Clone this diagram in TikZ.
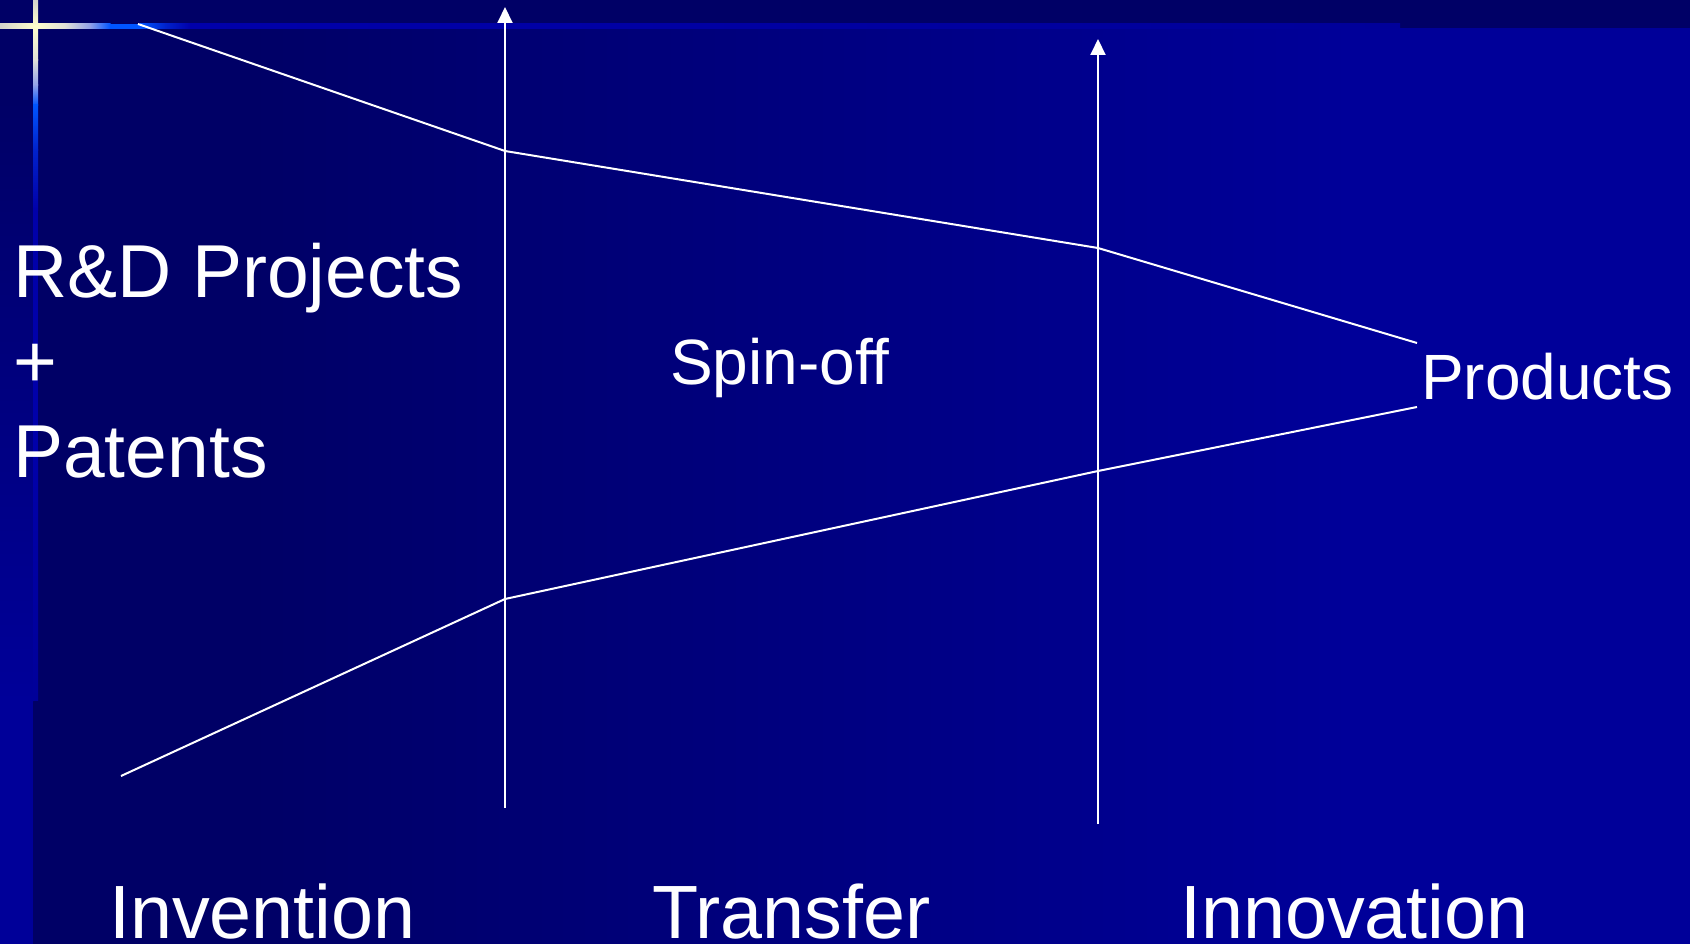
\documentclass[tikz,border=0pt]{standalone}
\usepackage{fontspec}
\setmainfont{Liberation Sans}
\usetikzlibrary{arrows.meta}
\definecolor{navy}{HTML}{000066}
\definecolor{royal}{HTML}{000099}
\definecolor{glowline}{HTML}{0000AA}
\definecolor{glowblue}{HTML}{0055FF}
\definecolor{glowmid}{HTML}{0022CC}
\definecolor{glowpale}{HTML}{D4D4CC}
\definecolor{glowstar}{HTML}{FFFFCC}
\definecolor{glowgrey}{HTML}{E0E0D8}
\definecolor{glowlav}{HTML}{90A0E8}
\begin{document}
\begin{tikzpicture}[x=1pt,y=-1pt,
  flow/.style={draw=white,line width=2pt,line join=miter},
  rise/.style={draw=white,line width=2pt,-{Triangle[width=15pt,length=16pt]}},
  bigtext/.style={text=white,inner sep=0pt,anchor=base west,font=\fontsize{75}{90}\selectfont},
  midtext/.style={text=white,inner sep=0pt,anchor=base west,font=\fontsize{64}{77}\selectfont},
  phasetext/.style={text=white,inner sep=0pt,anchor=base west,font=\fontsize{75.5}{91}\selectfont}]
\useasboundingbox (0,0) rectangle (1690,944);
% background
\fill[navy] (0,0) rectangle (1690,944);
\shade[left color=navy,right color=royal] (250,28) rectangle (1351,944);
\fill[royal] (1350,28) rectangle (1690,944);
% left strip
\shade[top color=navy,bottom color=royal] (0,100) rectangle (33,701);
\fill[royal] (0,700) rectangle (33,944);
% horizontal glow line
\shade[left color=glowpale,right color=glowstar] (0,24) rectangle (35.5,29);
\shade[left color=glowstar,right color=glowgrey] (35,24) rectangle (65.5,29);
\shade[left color=glowgrey,right color=glowlav] (65,24) rectangle (90.5,29);
\shade[left color=glowlav,right color=glowblue] (90,24) rectangle (110.5,29);
\fill[glowblue] (110,24) rectangle (140.5,29);
\shade[left color=glowblue,right color=glowmid] (140,24) rectangle (165.5,29);
\shade[left color=glowmid,right color=glowline] (165,24) rectangle (190.5,29);
\shade[left color=glowline,right color=royal] (190,24) rectangle (1400,29);
% vertical glow line
\shade[top color=glowpale,bottom color=glowstar] (33,0) rectangle (38,26.5);
\shade[top color=glowstar,bottom color=glowgrey] (33,26) rectangle (38,60.5);
\shade[top color=glowgrey,bottom color=glowlav] (33,60) rectangle (38,85.5);
\shade[top color=glowlav,bottom color=glowblue] (33,85) rectangle (38,105.5);
\shade[top color=glowblue,bottom color=glowmid] (33,105) rectangle (38,150.5);
\shade[top color=glowmid,bottom color=glowline] (33,150) rectangle (38,210.5);
\fill[glowline] (33,210) rectangle (38,450.5);
\shade[top color=glowline,bottom color=royal] (33,450) rectangle (38,700);
% key points
\coordinate (t0) at (138,24);
\coordinate (t1) at (505,151);
\coordinate (t2) at (1098,248);
\coordinate (t3) at (1417,343);
\coordinate (b0) at (121,776);
\coordinate (b1) at (505,599);
\coordinate (b2) at (1098,471);
\coordinate (b3) at (1417,407);
\coordinate (a1s) at (505,808);
\coordinate (a1e) at (505,7);
\coordinate (a2s) at (1098,824);
\coordinate (a2e) at (1098,39);
% arrows and funnel
\draw[rise] (a1s) -- (a1e);
\draw[rise] (a2s) -- (a2e);
\draw[flow] (t0) -- (t1) -- (t2) -- (t3);
\draw[flow] (b0) -- (b1) -- (b2) -- (b3);
% texts
\node[bigtext] (rd) at (13,298) {R\&D Projects};
\node[bigtext] (plus) at (13,387.5) {+};
\node[bigtext] (pat) at (13,477) {Patents};
\node[midtext] (spin) at (670,384) {Spin-off};
\node[midtext] (prod) at (1421,399) {Products};
\node[phasetext] (inv) at (109,938) {Invention};
\node[phasetext] (tra) at (652,938) {Transfer};
\node[phasetext] (inn) at (1180,938) {Innovation};
\end{tikzpicture}
\end{document}
